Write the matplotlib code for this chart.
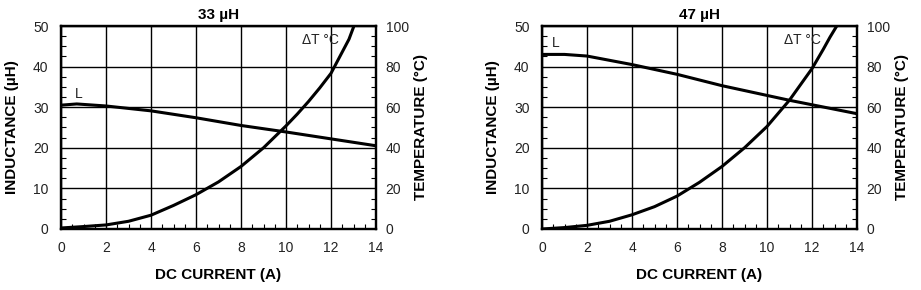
import matplotlib
matplotlib.use("Agg")
import matplotlib.pyplot as plt
from matplotlib.ticker import MultipleLocator

plt.rcParams['font.family'] = ['Liberation Sans', 'DejaVu Sans']

# ---- data ----
titles = ["33 µH", "47 µH"]

# 33 uH
l33_x = [0, 0.7, 2, 4, 6, 8, 10, 12, 14]
l33_y = [30.5, 30.8, 30.3, 29.1, 27.4, 25.5, 23.9, 22.2, 20.5]
t33_x = [0, 1, 2, 3, 4, 5, 6, 7, 8, 9, 10, 10.5, 11, 11.5, 12, 12.5, 12.8, 13.02]
t33_y = [0.5, 1.2, 2, 3.8, 6.8, 11.6, 16.9, 23.2, 30.8, 40, 50.8, 56.6, 62.8, 69.5, 76.7, 87.2, 93.5, 100]

# 47 uH
l47_x = [0, 1, 2, 4, 6, 8, 10, 11, 12, 14]
l47_y = [43.0, 43.0, 42.6, 40.5, 38.1, 35.3, 32.9, 31.7, 30.6, 28.4]
t47_x = [0, 1, 2, 3, 4, 5, 6, 7, 8, 9, 10, 11, 12, 12.5, 12.8, 13.1]
t47_y = [0, 0.7, 1.8, 3.8, 7.0, 11.0, 16.2, 23.0, 30.8, 40, 50.5, 63.5, 79, 88.5, 94.5, 100]

x_ticks = [0, 2, 4, 6, 8, 10, 12, 14]
l_ticks = [0, 10, 20, 30, 40, 50]
t_ticks = [0, 20, 40, 60, 80, 100]

panels = [
    (titles[0], l33_x, l33_y, t33_x, t33_y, (0.78, 33.3), (12.35, 46.6)),
    (titles[1], l47_x, l47_y, t47_x, t47_y, (0.62, 45.8), (12.4, 46.6)),
]
lefts = [61 / 921, 542 / 921]

fig = plt.figure(figsize=(9.21, 2.90), dpi=100)

for (title, lx, ly, tx, ty, lpos, tpos), left in zip(panels, lefts):
    ax = fig.add_axes([left, 61 / 290, 315 / 921, 203 / 290])
    ax2 = ax.twinx()
    ax.set_xlim(0, 14)
    ax.set_ylim(0, 50)
    ax2.set_ylim(0, 100)
    ax.set_xticks(x_ticks)
    ax.set_yticks(l_ticks)
    ax2.set_yticks(t_ticks)
    ax.xaxis.set_minor_locator(MultipleLocator(0.5))
    ax.yaxis.set_minor_locator(MultipleLocator(2.5))
    ax2.yaxis.set_minor_locator(MultipleLocator(5))
    ax.grid(True, which='major', color='black', linewidth=1.0)
    ax.set_axisbelow(True)
    ax.tick_params(axis='x', which='major', length=0, labelsize=10, labelcolor='#222222', pad=9)
    ax.tick_params(axis='y', which='major', length=0, labelsize=10, labelcolor='#222222', pad=9)
    ax.tick_params(which='minor', direction='in', length=3.5, width=0.8,
                   top=False, right=False)
    ax2.tick_params(which='major', length=0, labelsize=10, labelcolor='#222222', pad=7)
    ax2.tick_params(which='minor', direction='in', length=3.5, width=0.8)
    for a in (ax, ax2):
        for s in a.spines.values():
            s.set_linewidth(1.6)
    ax.plot(lx, ly, color='black', linewidth=2.2, solid_capstyle='butt')
    ax2.plot(tx, ty, color='black', linewidth=2.2, solid_capstyle='butt')
    ax.text(lpos[0], lpos[1], "L", fontsize=10, ha='center', va='center', color='#222222')
    ax.text(tpos[0], tpos[1], "ΔT °C", fontsize=10, ha='right', va='center', color='#222222')
    ax.set_title(title, fontsize=11, fontweight='bold', pad=5)
    ax.set_xlabel("DC CURRENT (A)", fontsize=11, fontweight='bold', labelpad=9)
    ax.set_ylabel("INDUCTANCE (µH)", fontsize=11, fontweight='bold', labelpad=10)
    ax2.set_ylabel("TEMPERATURE (°C)", fontsize=11, fontweight='bold', labelpad=4)

fig.savefig("out.png", dpi=100)
